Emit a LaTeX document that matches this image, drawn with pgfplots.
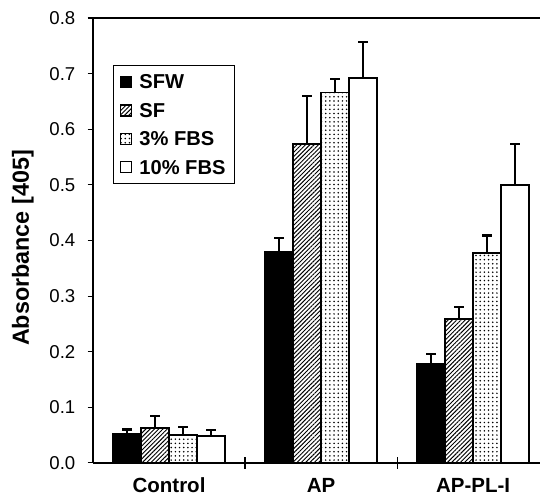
\documentclass[border=0pt]{standalone}
\usepackage{fontspec}
\setmainfont{Liberation Sans}
\usepackage{pgfplots}
\pgfplotsset{compat=1.18}
\usetikzlibrary{patterns.meta,calc}

\begin{document}
\begin{tikzpicture}
\begin{axis}[
  scale only axis,
  width=235.5pt, height=234.4pt,
  ybar=0pt, bar width=0.184,
  xmin=-0.5, xmax=2.44,
  ymin=0, ymax=0.8,
  axis x line=box, axis y line=left,
  y axis line style={-},
  axis line style={line width=1pt},
  xtick pos=lower, ytick pos=left,
  xtick={0,1,2},
  xticklabels={Control,AP,AP-PL-I},
  major x tick style={draw=none},
  minor xtick={0.5,1.5},
  xtick align=center,
  minor tick length=6pt,
  ytick={0,0.1,...,0.8},
  ytick align=outside,
  major tick length=2.8pt,
  tick style={line width=0.6pt,black},
  /pgf/number format/assume math mode=true,
  yticklabel style={/pgf/number format/fixed,/pgf/number format/fixed zerofill,
    /pgf/number format/precision=1,font=\fontsize{9.8}{11}\selectfont,xshift=-3pt},
  xticklabel style={font=\fontsize{10.8}{12}\selectfont\bfseries,yshift=-3pt},
  ylabel={Absorbance [405]},
  ylabel style={font=\fontsize{12.3}{14}\selectfont\bfseries,
    at={(axis description cs:-0.157,0.483)},anchor=center},
  legend style={at={(0.045,0.894)},anchor=north west,draw=black,line width=0.5pt,
    font=\fontsize{10.6}{12}\selectfont\bfseries,row sep=4.8pt,inner xsep=3.5pt,inner ysep=3.5pt,
    nodes={text height=7.7pt,text depth=0.5pt,inner sep=1pt}},
  legend cell align=left,
  legend image code/.code={\draw[#1,line width=0.6pt] (0pt,-2.9pt) rectangle (5.8pt,2.9pt);
    \path[draw=none,fill=none,pattern=none] (0pt,0pt) -- (8.8pt,0pt);},
  every axis plot/.append style={draw=black,line width=1pt},
  error bars/y dir=plus, error bars/y explicit,
  error bars/error bar style={line width=1pt,black},
  error bars/error mark options={rotate=90,line width=1.2pt,mark size=2.6pt,black},
]
\addplot[fill=black] coordinates {(0,0.052) +- (0,0.008) (1,0.380) +- (0,0.025) (2,0.178) +- (0,0.018)};
\addlegendentry{SFW}
\addplot[pattern={Lines[angle=45,distance=1.6pt,line width=0.5pt]}] coordinates {(0,0.063) +- (0,0.022) (1,0.574) +- (0,0.086) (2,0.259) +- (0,0.022)};
\addlegendentry{SF}
\addplot[pattern={Dots[distance=2.2pt,radius=0.45pt]}] coordinates {(0,0.050) +- (0,0.015) (1,0.666) +- (0,0.025) (2,0.378) +- (0,0.031)};
\addlegendentry{3\% FBS}
\addplot[fill=white] coordinates {(0,0.049) +- (0,0.010) (1,0.692) +- (0,0.065) (2,0.499) +- (0,0.074)};
\addlegendentry{10\% FBS}
\end{axis}
\pgfresetboundingbox
\path[use as bounding box] ($(current axis.south west)+(-49pt,-20.5pt)$) rectangle ($(current axis.north east)+(0pt,9.5pt)$);
\end{tikzpicture}
\end{document}
